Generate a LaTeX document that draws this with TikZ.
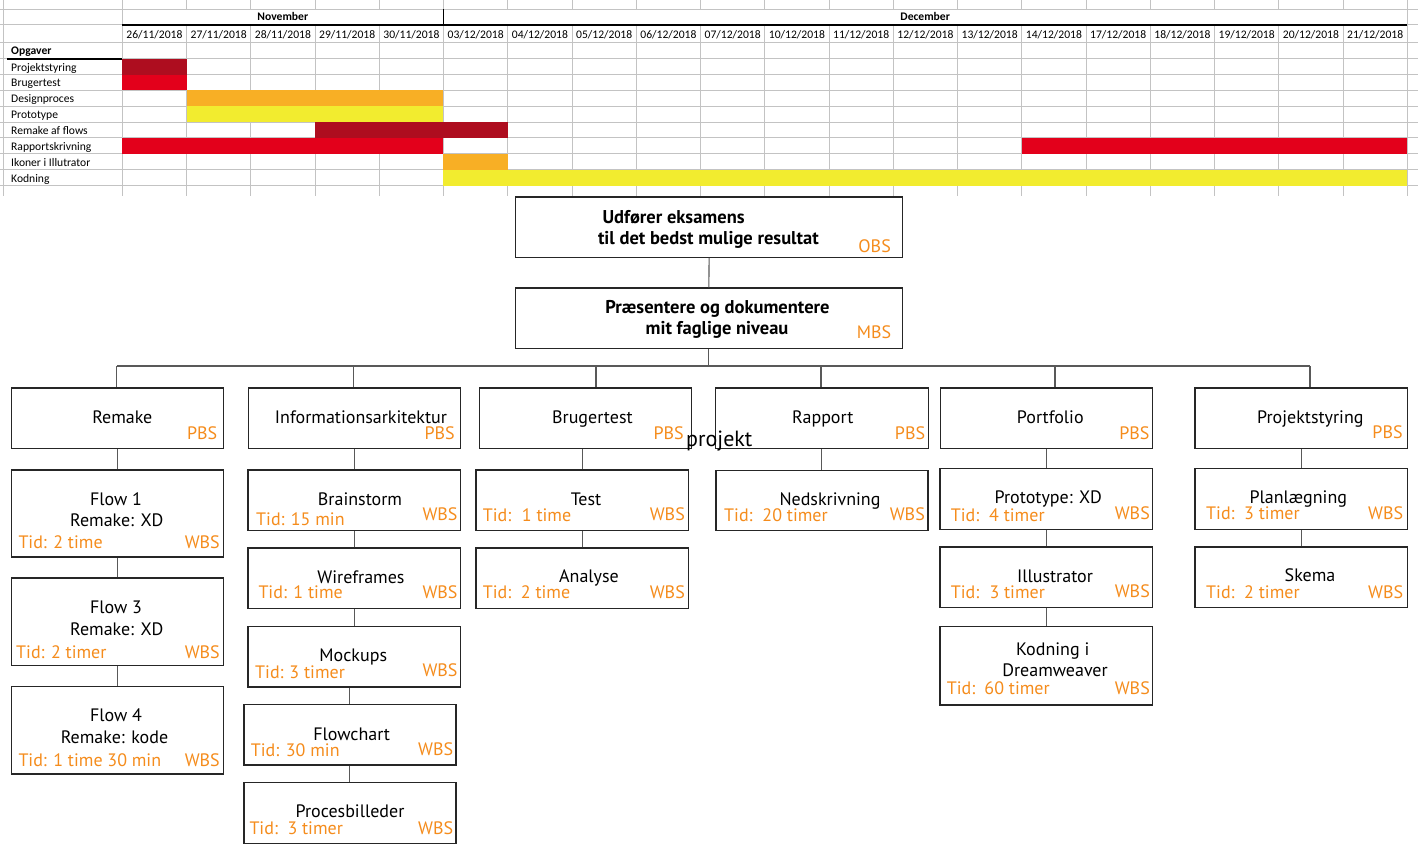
\documentclass[tikz,border=0pt]{standalone}
\usepackage{fontspec}
\setmainfont{PT Sans}
\newfontfamily\xlfont{Carlito}
\definecolor{gdark}{RGB}{174,13,31}
\definecolor{gred}{RGB}{227,0,27}
\definecolor{gorange}{RGB}{248,175,37}
\definecolor{gyellow}{RGB}{242,236,47}
\definecolor{ggrid}{RGB}{195,195,195}
\definecolor{wbsorange}{RGB}{245,140,28}

% box of the breakdown structure, given by its corners
\newcommand\wbox[5]{\node[box, anchor=north west,
  minimum width={(#4-#2)*1pt}, minimum height={(#5-#3)*1pt}] (#1) at (#2,#3) {};}
% centred title line on its baseline
\newcommand\wtitle[4]{\node[ttltext] (#1) at (#2,#3) {#4};}
% time estimate: left edge, baseline, width of "Tid:" field, value
\newcommand\wtid[5]{\node[tagtext, anchor=base west] (#1) at (#2,#3) {\makebox[#4pt][l]{Tid:}#5};}
% level tag at the right edge
\newcommand\wtag[4]{\node[tagtext, anchor=base east] (#1) at (#2,#3) {#4};}

\begin{document}
\begin{tikzpicture}[x=1pt,y=-1pt,
  gl/.style={draw=ggrid, line width=1pt},
  gtxt/.style={inner sep=0, font=\xlfont\fontsize{11.6}{13}\selectfont},
  box/.style={draw=black!85, line width=1.2pt, fill=white, inner sep=0},
  ttltext/.style={inner sep=0, anchor=base, font=\fontsize{18}{20}\selectfont},
  boldtext/.style={inner sep=0, font=\bfseries\fontsize{18.5}{20}\selectfont},
  tagtext/.style={inner sep=0, text=wbsorange, font=\fontsize{18}{20}\selectfont},
  conn/.style={draw=black!65, line width=1.1pt}]
\useasboundingbox (0,0) rectangle (1418,858);
\fill[white] (0,0) rectangle (1418,858);

% ---------- Gantt chart ----------
\foreach \k in {0,...,20}{
  \pgfmathsetmacro\xx{122.3+64.25*\k}
  \draw[gl] (\xx,0) -- (\xx,9.3);
  \draw[gl] (\xx,25) -- (\xx,196);
}
\draw[gl] (122.3,9.3) -- (122.3,25);
\draw[gl] (1407,9.3) -- (1407,25);
\draw[gl] (3,0) -- (3,196);
\foreach \yy in {9.3,25,42.5,59,75,90.5,106.5,122.3,138,154,170,186}
  \draw[gl] (0,\yy) -- (1418,\yy);

% bars
\fill[gdark]   (122.3,59)    rectangle (186.55,75);
\fill[gred]    (122.3,75)    rectangle (186.55,90.5);
\fill[gorange] (186.55,90.5) rectangle (443.3,106.5);
\fill[gyellow] (186.55,106.5) rectangle (443.3,122.3);
\fill[gdark]   (315.05,122.3) rectangle (507.55,138);
\fill[gred]    (122.3,138)   rectangle (443.3,154);
\fill[gred]    (1021.8,138)  rectangle (1407,154);
\fill[gorange] (443.3,154)   rectangle (507.55,170);
\fill[gyellow] (443.3,170)   rectangle (1407,186);

% header rules
\draw[black, line width=2pt] (122.3,25) -- (1407,25);
\draw[black, line width=1.5pt] (443.3,9.3) -- (443.3,25);
\draw[black, line width=1.6pt] (7,59) -- (122.3,59);

\node[gtxt, anchor=base, font=\xlfont\bfseries\fontsize{11.6}{13}\selectfont] (nov) at (282.8,21) {November};
\node[gtxt, anchor=base, font=\xlfont\bfseries\fontsize{11.6}{13}\selectfont] (dec) at (925.2,21) {December};
\foreach \dd/\mm [count=\i from 0] in {26/11,27/11,28/11,29/11,30/11,03/12,04/12,05/12,06/12,07/12,10/12,11/12,12/12,13/12,14/12,17/12,18/12,19/12,20/12,21/12}{
  \pgfmathsetmacro\xc{122.3+64.25*\i+32.1}
  \node[gtxt, anchor=base] (date\i) at (\xc,38.3) {\dd/\mm/2018};
}
\node[gtxt, anchor=base west, font=\xlfont\bfseries\fontsize{11.6}{13}\selectfont] (opg) at (11,54.5) {Opgaver};
\foreach \t/\yb [count=\i] in {Projektstyring/71.5, Brugertest/87, Designproces/103, Prototype/118.8,
   Remake af flows/134.5, Rapportskrivning/150.5, Ikoner i Illutrator/166.5, Kodning/182.5}
  \node[gtxt, anchor=base west] (task\i) at (11,\yb) {\t};

% ---------- top levels ----------
\wbox{obs}{515}{196.5}{902}{256.7}
\node[boldtext, anchor=base west] (obs1) at (602.4,223.3) {Udfører eksamens};
\node[boldtext, anchor=base west] (obs2) at (597.8,244.3) {til det bedst mulige resultat};
\wtag{obst}{891}{252.7}{OBS}

\wbox{mbs}{515}{287.5}{901.5}{347.7}
\node[boldtext, anchor=base] (mbs1) at (717.5,313.3) {Præsentere og dokumentere};
\node[boldtext, anchor=base] (mbs2) at (717,334.3) {mit faglige niveau};
\wtag{mbst}{891.4}{338.3}{MBS}

\draw[conn] (obs.south) -- (mbs.north);

% ---------- product level ----------
\wbox{remake}{10.5}{387.3}{222.8}{447.7}
\wtitle{remaket}{122.3}{423}{Remake}
\wtag{remakep}{217.4}{439.3}{PBS}
\wbox{info}{247.5}{387.3}{459.8}{447.7}
\wtitle{infot}{361}{423}{Informationsarkitektur}
\wtag{infop}{455}{439.3}{PBS}
\wbox{bruger}{478.7}{387.3}{690.7}{447.7}
\wtitle{brugert}{592.4}{423}{Brugertest}
\wtag{brugerp}{683.9}{439.3}{PBS}
\wbox{rapport}{715}{387.3}{927.6}{447.7}
\wtitle{rapportt}{822.7}{423}{Rapport}
\wtag{rapportp}{925.3}{439.3}{PBS}
\wbox{portf}{939.5}{387.3}{1151.8}{447.7}
\wtitle{portft}{1050.3}{423}{Portfolio}
\wtag{portfp}{1149.6}{439.3}{PBS}
\wbox{projst}{1194.4}{387.3}{1406.6}{447.7}
\wtitle{projstt}{1310.3}{423}{Projektstyring}
\wtag{projstp}{1402.8}{438.3}{PBS}

\node[inner sep=0, anchor=base west, font=\fontsize{22}{24}\selectfont] (projekt) at (686,446.7) {projekt};

% bus from the middle level to the products
\coordinate (busL) at (116.8,366);
\coordinate (busR) at (1310,366);
\coordinate (dInfo) at (353.7,366);
\coordinate (dBruger) at (596,366);
\coordinate (dRapport) at (821,366);
\coordinate (dPortf) at (1055,366);
\draw[conn] (mbs.south) -- (mbs.south |- busL);
\draw[conn] (busL) -- (busR);
\draw[conn] (busL) -- (busL |- remake.north);
\draw[conn] (dInfo) -- (dInfo |- info.north);
\draw[conn] (dBruger) -- (dBruger |- bruger.north);
\draw[conn] (dRapport) -- (dRapport |- rapport.north);
\draw[conn] (dPortf) -- (dPortf |- portf.north);
\draw[conn] (busR) -- (busR |- projst.north);

% ---------- work packages: Remake ----------
\wbox{flowa}{10.7}{469.3}{222.7}{556.3}
\wtitle{flowat}{116}{505}{Flow 1}
\wtitle{flowar}{116.8}{526.7}{Remake: XD}
\node[tagtext, anchor=base west] (flowai) at (18.3,548.3) {Tid: 2 time};
\wtag{flowaw}{220}{548.3}{WBS}
\wbox{flowb}{10.7}{577.3}{222.7}{664.7}
\wtitle{flowbt}{116}{613.3}{Flow 3}
\wtitle{flowbr}{116.8}{635}{Remake: XD}
\node[tagtext, anchor=base west] (flowbi) at (16,658) {Tid: 2 timer};
\wtag{flowbw}{220}{658}{WBS}
\wbox{flowc}{10.7}{686}{222.7}{773.3}
\wtitle{flowct}{116}{721.7}{Flow 4}
\wtitle{flowcr}{114.5}{743.3}{Remake: kode}
\node[tagtext, anchor=base west] (flowci) at (18.3,766) {Tid: 1 time 30 min};
\wtag{flowcw}{220}{766}{WBS}

% ---------- Informationsarkitektur ----------
\wbox{brain}{247.3}{469.3}{460}{530}
\wtitle{braint}{360}{505}{Brainstorm}
\wtid{braini}{256}{525}{34.7}{15 min}
\wtag{brainw}{457.7}{520.7}{WBS}
\wbox{wire}{247.3}{547.3}{460}{608}
\wtitle{wiret}{361}{583.3}{Wireframes}
\wtid{wirei}{258.3}{598.7}{35}{1 time}
\wtag{wirew}{457.7}{598.3}{WBS}
\wbox{mock}{247.3}{625.7}{460}{686.3}
\wtitle{mockt}{353.3}{661}{Mockups}
\wtid{mocki}{255}{678.3}{34.3}{3 timer}
\wtag{mockw}{457.7}{676.7}{WBS}
\wbox{flowch}{243.3}{703.7}{455.3}{764.3}
\wtitle{flowcht}{351.7}{740}{Flowchart}
\wtid{flowchi}{250.7}{756}{35}{30 min}
\wtag{flowchw}{453.3}{755.3}{WBS}
\wbox{proces}{243.3}{782}{455.3}{842.7}
\wtitle{procest}{350}{817.7}{Procesbilleder}
\wtid{procesi}{249.3}{834}{38}{3 timer}
\wtag{procesw}{453.3}{834}{WBS}

% ---------- Brugertest ----------
\wbox{test}{475.3}{469.3}{687.7}{529.7}
\wtitle{testt}{586}{505}{Test}
\wtid{testi}{482.7}{521.7}{39}{1 time}
\wtag{testw}{685}{520.7}{WBS}
\wbox{analyse}{475.3}{547.3}{687.7}{608}
\wtitle{analyset}{589}{582.7}{Analyse}
\wtid{analysei}{482.7}{598.3}{38}{2 time}
\wtag{analysew}{685}{598}{WBS}

% ---------- Rapport ----------
\wbox{nedskr}{715.3}{469.7}{927.3}{530}
\wtitle{nedskrt}{830}{505}{Nedskrivning}
\wtid{nedskri}{724}{521.7}{38.3}{20 timer}
\wtag{nedskrw}{925}{520.7}{WBS}

% ---------- Portfolio ----------
\wbox{proto}{939.3}{468}{1151.7}{528.7}
\wtitle{protot}{1048.3}{503.3}{Prototype: XD}
\wtid{protoi}{950.7}{521.7}{38.3}{4 timer}
\wtag{protow}{1150}{519.3}{WBS}
\wbox{illus}{939.3}{546.3}{1151.7}{607}
\wtitle{illust}{1055}{582.3}{Illustrator}
\wtid{illusi}{950.7}{598.3}{38.6}{3 timer}
\wtag{illusw}{1150}{597.3}{WBS}
\wbox{kod}{939.3}{625.7}{1151.7}{704.3}
\wtitle{kodt}{1052.7}{655}{Kodning i}
\wtitle{kodd}{1055}{676.7}{Dreamweaver}
\wtid{kodi}{946.7}{694.3}{37.6}{60 timer}
\wtag{kodw}{1150}{694.3}{WBS}

% ---------- Projektstyring ----------
\wbox{plan}{1194.3}{468}{1406.7}{528.7}
\wtitle{plant}{1298.3}{503.3}{Planlægning}
\wtid{plani}{1206}{519.3}{38}{3 timer}
\wtag{planw}{1403.3}{519.3}{WBS}
\wbox{skema}{1194.3}{546.3}{1406.7}{607}
\wtitle{skemat}{1310}{581.7}{Skema}
\wtid{skemai}{1206}{598.3}{38}{2 timer}
\wtag{skemaw}{1403.3}{598}{WBS}

% ---------- connectors between levels ----------
\foreach \pa/\ch in {remake/flowa, flowa/flowb, flowb/flowc,
    info/brain, brain/wire, wire/mock, mock/flowch, flowch/proces,
    bruger/test, test/analyse, rapport/nedskr,
    portf/proto, proto/illus, illus/kod, projst/plan, plan/skema}
  \draw[conn] (\ch.north) -- (\ch.north |- \pa.south);
\end{tikzpicture}
\end{document}
